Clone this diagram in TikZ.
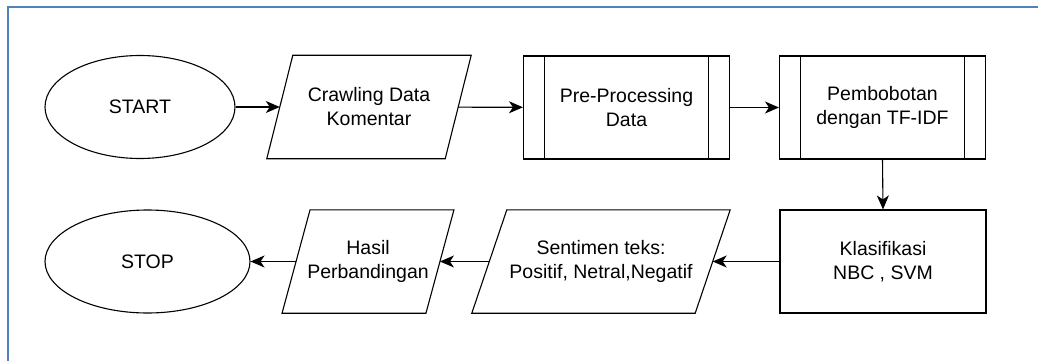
\documentclass[tikz,border=0pt]{standalone}
\usepackage{fontspec}
\setmainfont{Liberation Sans}
\usetikzlibrary{shapes.geometric,arrows.meta}
\definecolor{framecol}{RGB}{79,129,189}

\begin{document}
\begin{tikzpicture}[
    x=1pt, y=-1pt,
    font=\fontsize{19.5}{24}\selectfont,
    every node/.style={inner sep=0pt, align=center},
    term/.style={
        draw,
        ellipse,
        line width=1.1pt,
        minimum height=103pt
    },
    io/.style={
        rectangle,
        minimum height=103pt,
        append after command={
            \pgfextra{
                \draw[line width=1.1pt, line join=miter]
                    ([xshift=#1/2]\tikzlastnode.north west) --
                    ([xshift=#1/2]\tikzlastnode.north east) --
                    ([xshift=-#1/2]\tikzlastnode.south east) --
                    ([xshift=-#1/2]\tikzlastnode.south west) -- cycle;
            }
        }
    },
    proc/.style={
        draw,
        rectangle,
        line width=1.1pt,
        minimum width=206pt,
        minimum height=103pt
    },
    subproc/.style={
        proc,
        path picture={
            \draw[line width=1.1pt]
                ([xshift=21pt]path picture bounding box.north west) --
                ([xshift=21pt]path picture bounding box.south west)
                ([xshift=-21pt]path picture bounding box.north east) --
                ([xshift=-21pt]path picture bounding box.south east);
        }
    },
    arr/.style={-{Stealth[length=14pt,width=12pt,inset=4pt]}, line width=1.1pt}
]
\useasboundingbox (0,0) rectangle (1038,361);
\draw[framecol, line width=2pt] (8,361) -- (8,7) -- (1038,7);

% first row
\node[term, minimum width=190pt] (start) at (140,107) {START};

\node[io=26pt, minimum width=178pt] (crawl) at (369,107)
{Crawling Data\\Komentar};

\node[subproc] (prep) at (626.5,107.5) {Pre-Processing\\Data};

\node[subproc] (tfidf) at (882.5,107.5) {Pembobotan\\dengan TF-IDF};

% second row
\node[proc] (klas) at (883,261.5) {Klasifikasi\\NBC , SVM};

\node[io=35pt, minimum width=223pt] (senti) at (601,261.5)
{Sentimen teks:\\Positif, Netral,Negatif};

\node[io=28pt, minimum width=143.5pt] (hasil) at (368,261.5)
{Hasil\\Perbandingan};

\node[term, minimum width=205pt] (stop) at (147.5,261.5) {STOP};

\draw[arr] (start) -- (crawl);
\draw[arr] (crawl) -- (prep);
\draw[arr] (prep) -- (tfidf);
\draw[arr] (tfidf.south) -- (klas.north);
\draw[arr] (klas) -- (senti);
\draw[arr] (senti) -- (hasil);
\draw[arr] (hasil) -- (stop);

\end{tikzpicture}
\end{document}
